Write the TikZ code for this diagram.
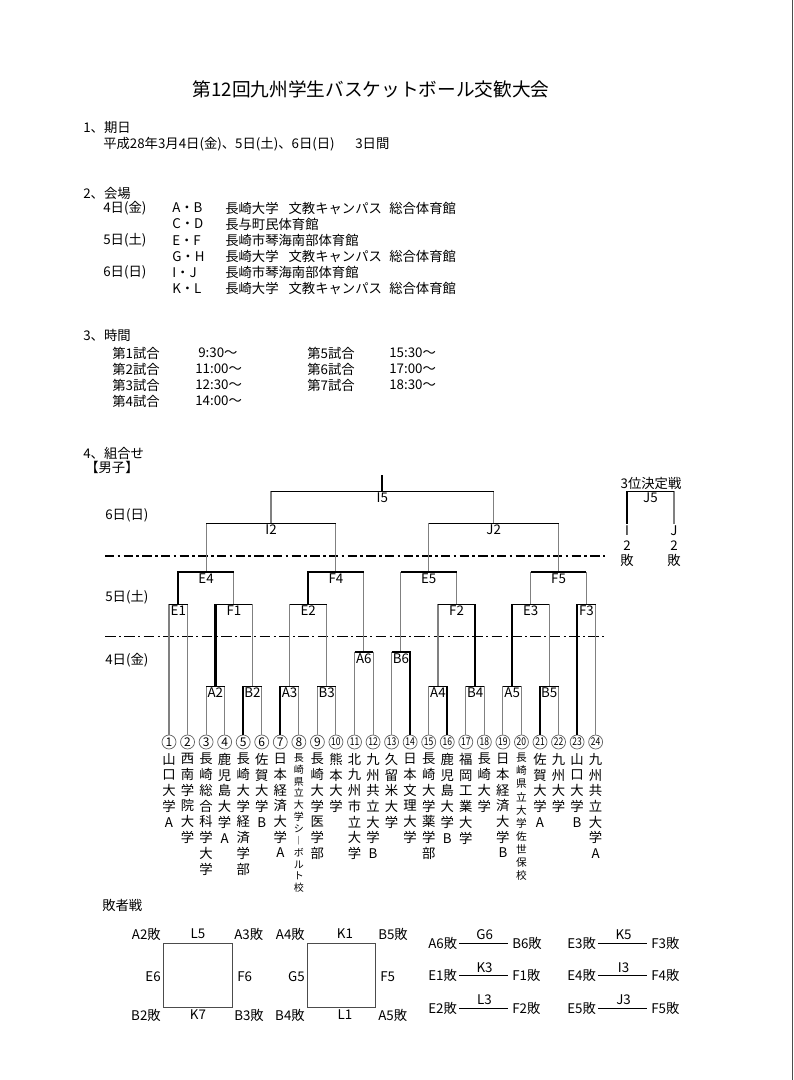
\documentclass[tikz,border=0pt]{standalone}
\usepackage{fontspec}
\setmainfont{Noto Sans CJK JP}
\usetikzlibrary{calc}
\tikzset{
  every node/.style={font=\fontsize{10}{12}\selectfont},
  % Text
  txt/.style={anchor=west, inner sep=0pt},
  ttl/.style={inner sep=0pt, font=\fontsize{14}{16}\selectfont},
  % Turniertafel
  vln/.style={black!50, line width=0.8pt},
  hln/.style={black, line width=0.6pt},
  win/.style={black, line width=1.7pt},
  mlab/.style={anchor=north, inner sep=1pt},
  num/.style={circle, draw=black!60, line width=0.55pt, inner sep=0pt, minimum size=10.5pt},
  tate/.style={anchor=north, inner sep=0pt, align=center, font=\fontsize{10}{11.8}\selectfont},
  daybig/.style={black, line width=1.5pt, dash pattern=on 7pt off 2.5pt on 2pt off 2.5pt},
  daysmall/.style={black, line width=0.6pt, dash pattern=on 8pt off 2.5pt on 1.5pt off 2.5pt},
  % Verliererrunde
  box/.style={black!70, line width=0.7pt},
  pair/.style={black, line width=0.6pt, shorten <=1.5pt, shorten >=3pt},
}
% Spiel #1 zwischen #2 und #3, Querlinie auf Hoehe #4
\newcommand{\bout}[4]{%
  \coordinate (#1) at ($(#2 |- 0,#4)!.5!(#3 |- 0,#4)$);
  \draw[vln] (#2) -- (#2 |- #1) (#3) -- (#3 |- #1);
  \draw[hln] (#2 |- #1) -- (#3 |- #1);
  \node[mlab] (#1l) at (#1) {#1};}

\begin{document}
\begin{tikzpicture}[x=0.75pt, y=-0.75pt]
  \useasboundingbox (0,0) rectangle (793,1080);
  \draw[black!70, line width=0.6pt] (792,0) -- (792,1080);
  % Kopf
  \node[ttl] (title) at (371,89) {第12回九州学生バスケットボール交歓大会};
  \node[txt] (s1) at (83,128) {1、期日};
  \node[txt] (s1a) at (103,144) {平成28年3月4日(金)、5日(土)、6日(日)};
  \node[txt] (s1b) at (355,144) {3日間};
  \node[txt] (s2) at (83,193) {2、会場};
  \foreach \d/\c/\h [count=\k from 0] in {4日(金)/A・B/長崎大学\hspace{.75em}文教キャンパス\hspace{.55em}総合体育館,
      /C・D/長与町民体育館, 5日(土)/E・F/長崎市琴海南部体育館,
      /G・H/長崎大学\hspace{.75em}文教キャンパス\hspace{.55em}総合体育館,
      6日(日)/I・J/長崎市琴海南部体育館,
      /K・L/長崎大学\hspace{.75em}文教キャンパス\hspace{.55em}総合体育館} {
    \node[txt] (vd\k) at (103,{208+16.1*\k}) {\d};
    \node[txt] (vc\k) at (172,{208+16.1*\k}) {\c};
    \node[txt] (vh\k) at (225,{208+16.1*\k}) {\h};
  }
  \node[txt] (s3) at (83,335) {3、時間};
  \foreach \g/\t/\tx [count=\k from 0] in {1/9:30～/198, 2/11:00～/195, 3/12:30～/195, 4/14:00～/195} {
    \node[txt] (ga\k) at (112,{353+16*\k}) {第\g 試合};
    \node[txt] (ta\k) at (\tx,{353+16*\k}) {\t};
  }
  \foreach \g/\t [count=\k from 0] in {5/15:30～, 6/17:00～, 7/18:30～} {
    \node[txt] (gb\k) at (307,{353+16*\k}) {第\g 試合};
    \node[txt] (tb\k) at (389,{353+16*\k}) {\t};
  }
  \node[txt] (s4) at (83,453) {4、組合せ};
  \node[txt] (men) at (85,467) {【男子】};
  % Tage
  \node[txt] (d6) at (105,515) {6日(日)};
  \node[txt] (d5) at (105,597) {5日(土)};
  \node[txt] (d4) at (105,660) {4日(金)};
  \draw[daybig] (105,556) -- (605,556);
  \draw[daysmall] (105,636) -- (605,636);
  % Mannschaften
  \foreach \i in {1,...,24} {
    \node[num] (c\i) at ({169+(\i-1)*18.55},742)
      {\ifnum\i<10 \fontsize{9}{9}\selectfont\i\else\scalebox{.8}[1]{\fontsize{8}{8}\selectfont\i}\fi};
    \coordinate (t\i) at (c\i.north);
  }
  \foreach \i/\nm in {1/山\\口\\大\\学\\A, 2/西\\南\\学\\院\\大\\学, 3/長\\崎\\総\\合\\科\\学\\大\\学,
      4/鹿\\児\\島\\大\\学\\A, 5/長\\崎\\大\\学\\経\\済\\学\\部, 6/佐\\賀\\大\\学\\B,
      7/日\\本\\経\\済\\大\\学\\A, 9/長\\崎\\大\\学\\医\\学\\部, 10/熊\\本\\大\\学,
      11/北\\九\\州\\市\\立\\大\\学, 12/九\\州\\共\\立\\大\\学\\B, 13/久\\留\\米\\大\\学,
      14/日\\本\\文\\理\\大\\学, 15/長\\崎\\大\\学\\薬\\学\\部, 16/鹿\\児\\島\\大\\学\\B,
      17/福\\岡\\工\\業\\大\\学, 18/長\\崎\\大\\学, 19/日\\本\\経\\済\\大\\学\\B,
      21/佐\\賀\\大\\学\\A, 22/九\\州\\大\\学, 23/山\\口\\大\\学\\B, 24/九\\州\\共\\立\\大\\学\\A}
    \node[tate] (n\i) at (c\i.south |- 0,753) {\nm};
  \node[tate, font=\fontsize{7.5}{8.9}\selectfont] (n8) at (c8.south |- 0,753)
    {長\\崎\\県\\立\\大\\学\\シ\\︱\\ボ\\ル\\ト\\校};
  \node[tate, font=\fontsize{8}{9.8}\selectfont] (n20) at (c20.south |- 0,753)
    {長\\崎\\県\\立\\大\\学\\佐\\世\\保\\校};
  % 4日
  \bout{A2}{t3}{t4}{686} \bout{B2}{t5}{t6}{686} \bout{A3}{t7}{t8}{686} \bout{B3}{t9}{t10}{686}
  \bout{A6}{t11}{t12}{652} \bout{B6}{t13}{t14}{652}
  \bout{A4}{t15}{t16}{686} \bout{B4}{t17}{t18}{686} \bout{A5}{t19}{t20}{686} \bout{B5}{t21}{t22}{686}
  % 5日
  \bout{E1}{t1}{t2}{604} \bout{F1}{A2}{B2}{604} \bout{E2}{A3}{B3}{604}
  \bout{F2}{A4}{B4}{604} \bout{E3}{A5}{B5}{604} \bout{F3}{t23}{t24}{604}
  \bout{E4}{E1}{F1}{572} \bout{F4}{E2}{A6}{572} \bout{E5}{B6}{F2}{572} \bout{F5}{E3}{F3}{572}
  % 6日
  \bout{I2}{E4}{F4}{523} \bout{J2}{E5}{F5}{523}
  \bout{I5}{I2}{J2}{491}
  % Siegerwege
  \draw[win] (E1) |- (F1 |- E4);
  \draw[win] (A2) -- (A2 |- F1);
  \draw[win] (t5) -- (t5 |- B2);
  \draw[win] (t7) -- (t7 |- A3);
  \draw[win] (E2) |- (A6 |- F4);
  \draw[win] (t11 |- A6) -- (t12 |- A6);
  \draw[win] (t13 |- B6) -| (t14);
  \draw[win] (B6 |- E5) -- (F2 |- E5);
  \draw[win] (t16) -- (t16 |- A4);
  \draw[win] (B4) -- (B4 |- F2);
  \draw[win] (A5) -- (A5 |- E3);
  \draw[win] (t21) -- (t21 |- B5);
  \draw[win] (t23) -- (t23 |- F3);
  \draw[win] (E3 |- F5) -- (F3 |- F5);
  \draw[win] (I5) -- (I5 |- 0,475);
  % 3位決定戦
  \node (third) at (651,483) {3位決定戦};
  \node[tate, inner sep=1pt, font=\fontsize{10}{11.3}\selectfont] (lsI) at (627,524) {I\\2\\敗};
  \node[tate, inner sep=1pt, font=\fontsize{10}{11.3}\selectfont] (lsJ) at (674,524) {J\\2\\敗};
  \bout{J5}{lsI.north}{lsJ.north}{491}
  \draw[win] (lsI.north) -- (lsI.north |- J5);
  % 敗者戦
  \node[txt] (lose) at (102,905) {敗者戦};
  \draw[box] (163,943) rectangle (232,1007);
  \node[anchor=east, inner sep=0pt] (q1) at (161,934) {A2敗};
  \node[inner sep=0pt] (q2) at (198,934) {L5};
  \node[txt] (q3) at (234,934) {A3敗};
  \node[anchor=east, inner sep=0pt] (q4) at (161,977) {E6};
  \node[txt] (q5) at (237,977) {F6};
  \node[anchor=east, inner sep=0pt] (q6) at (161,1015) {B2敗};
  \node[inner sep=0pt] (q7) at (198,1015) {K7};
  \node[txt] (q8) at (234,1015) {B3敗};
  \draw[box] (307,943) rectangle (375,1007);
  \node[anchor=east, inner sep=0pt] (r1) at (305,934) {A4敗};
  \node[inner sep=0pt] (r2) at (345,934) {K1};
  \node[txt] (r3) at (378,934) {B5敗};
  \node[anchor=east, inner sep=0pt] (r4) at (305,977) {G5};
  \node[txt] (r5) at (380,977) {F5};
  \node[anchor=east, inner sep=0pt] (r6) at (305,1015) {B4敗};
  \node[inner sep=0pt] (r7) at (345,1015) {L1};
  \node[txt] (r8) at (378,1015) {A5敗};
  \foreach \l/\m/\r [count=\k from 0] in {A6/G6/B6, E1/K3/F1, E2/L3/F2} {
    \node[txt] (pl\k) at (428,{943+32.5*\k}) {{\l}敗};
    \node[txt] (pr\k) at (512,{943+32.5*\k}) {{\r}敗};
    \draw[pair] (pl\k) -- node[above=2pt, inner sep=0pt] (pm\k) {\m} (pr\k);
  }
  \foreach \l/\m/\r [count=\k from 0] in {E3/K5/F3, E4/I3/F4, E5/J3/F5} {
    \node[txt] (ql\k) at (567,{943+32.5*\k}) {{\l}敗};
    \node[txt] (qr\k) at (651,{943+32.5*\k}) {{\r}敗};
    \draw[pair] (ql\k) -- node[above=2pt, inner sep=0pt] (qm\k) {\m} (qr\k);
  }
\end{tikzpicture}
\end{document}
